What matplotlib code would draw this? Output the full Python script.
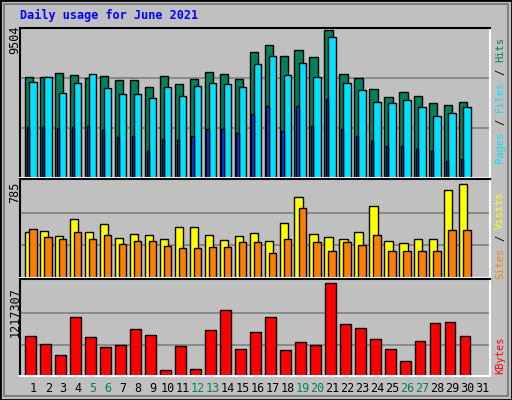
import numpy as np
import matplotlib
matplotlib.use("Agg")
import matplotlib.pyplot as plt

days = np.arange(1, 32)
weekend = [5, 6, 12, 13, 19, 20, 26, 27]

# values (day 31 has no data)
hits = [6400, 6450, 6700, 6560, 6380, 6500, 6210, 6240, 5800, 6500, 6000, 6330, 6760, 6650, 6300,
        8000, 8450, 7800, 8180, 7700, 9450, 6600, 6380, 5670, 5170, 5490, 5230, 4750, 4660, 4850, 0]
files = [6120, 6440, 5420, 6060, 6640, 5740, 5360, 5360, 5100, 5800, 5230, 5870, 6060, 6000, 5800,
         7270, 7780, 6570, 7330, 6440, 8990, 6080, 5610, 4820, 4780, 4950, 4530, 3960, 4150, 4530, 0]
pages = [3250, 3250, 3190, 3250, 3320, 3060, 2620, 2680, 1720, 2490, 2430, 2680, 3120, 3120, 2870,
         4080, 4600, 2990, 4590, 3320, 5040, 3120, 2680, 2370, 2040, 2040, 1850, 1720, 1080, 1210, 0]
visits = [372, 380, 340, 469, 372, 429, 324, 356, 348, 315, 405, 405, 348, 307, 340,
          364, 299, 437, 647, 356, 332, 315, 372, 574, 299, 283, 315, 315, 704, 753, 0]
sites = [396, 332, 315, 372, 315, 348, 275, 299, 299, 259, 243, 243, 251, 251, 291,
         291, 202, 315, 558, 291, 218, 291, 267, 348, 218, 218, 218, 218, 388, 388, 0]
kbytes = [516000, 410000, 265000, 768000, 503000, 371000, 397000, 609000, 529000, 79000, 384000, 93000,
          595000, 847000, 344000, 569000, 768000, 331000, 437000, 397000, 1204000, 675000, 622000, 477000,
          344000, 199000, 450000, 688000, 701000, 516000, 0]

W, H = 512, 400
fig = plt.figure(figsize=(W / 100, H / 100), dpi=100)
fig.patch.set_facecolor("#c0c0c0")
mono = "DejaVu Sans Mono"
XMIN, XMAX = 0.265, 31.66

def px_axes(x0, y0, x1, y1):
    ax = fig.add_axes([x0 / W, 1 - y1 / H, (x1 - x0) / W, (y1 - y0) / H])
    ax.set_facecolor("#c0c0c0")
    ax.set_xlim(XMIN, XMAX)
    ax.set_xticks([])
    ax.set_yticks([])
    for s in ax.spines.values():
        s.set_linewidth(1.5)
    ax.spines["left"].set_color("black")
    ax.spines["top"].set_color("black")
    ax.spines["right"].set_color("white")
    ax.spines["bottom"].set_color("white")
    return ax

def grid(ax, top):
    for f in (1 / 3, 2 / 3):
        ax.axhline(top * f, color="#808080", lw=1.2, zorder=0)

kw = dict(align="edge", edgecolor="black", linewidth=1, zorder=2)

ax1 = px_axes(20, 28, 490, 178)
ax1.set_ylim(0, 9504 * 1.005)
grid(ax1, 9504)
ax1.bar(days - 0.4, hits, 0.55, color="#00805c", **kw)
ax1.bar(days - 0.13, files, 0.5, color="#00e0ff", **kw)
ax1.bar(days - 0.28, pages, 0.15, color="#0040ff", **kw)

ax2 = px_axes(20, 179, 490, 278)
ax2.set_ylim(0, 785 * 1.01)
grid(ax2, 785)
ax2.bar(days - 0.4, visits, 0.55, color="#ffff00", **kw)
ax2.bar(days - 0.13, sites, 0.5, color="#ff8000", **kw)

ax3 = px_axes(20, 279, 490, 376)
ax3.set_ylim(0, 1217307 * 1.03)
grid(ax3, 1217307)
ax3.bar(days - 0.37, kbytes, 0.72, color="#ff0000", **kw)

# day labels
for d in days:
    c = "#00805c" if d in weekend else "black"
    x = (20 + (d + 0.15 - XMIN) * 470 / (XMAX - XMIN)) / W
    fig.text(x, 1 - 388 / H, str(d), ha="center", va="center", fontsize=8.5, color=c, family=mono)

# max labels
for y, t in [(40, "9504"), (192, "785"), (312, "1217307")]:
    fig.text(15 / W, 1 - y / H, t, rotation=90, ha="center", va="center", fontsize=8.5, family=mono)

fig.text(20 / W, 1 - 15 / H, "Daily usage for June 2021", color="#0000ff", fontsize=8.5,
         fontweight="bold", family=mono, va="center")

def right_label(yc, parts):
    # parts listed bottom-to-top
    total = sum(len(p[0]) for p in parts)
    cw = 6.3
    y = yc + total * cw / 2
    for txt, col in parts:
        n = len(txt.strip()) if txt.strip() else 1
        w = len(txt) * cw
        fig.text(500 / W, 1 - (y - w / 2) / H, txt.strip(), rotation=90, ha="center", va="center",
                 fontsize=7.5, color=col, family=mono)
        y -= w

right_label(100, [("Pages", "#00e0ff"), (" / ", "black"), ("Files", "#00e0ff"),
                  (" / ", "black"), ("Hits", "#00805c")])
right_label(235, [("Sites", "#ff8000"), (" / ", "black"), ("Visits", "#ffff00")])
right_label(355, [("KBytes", "#ff0000")])

# outer border
fig.add_artist(plt.Rectangle((0, 0), 1, 1, transform=fig.transFigure, fill=False,
                             edgecolor="black", linewidth=2))
fig.add_artist(plt.Rectangle((4 / W, 4 / H), 1 - 8 / W, 1 - 8 / H, transform=fig.transFigure,
                             fill=False, edgecolor="#808080", linewidth=1.5))

fig.savefig("out.png", dpi=100, facecolor=fig.get_facecolor())
